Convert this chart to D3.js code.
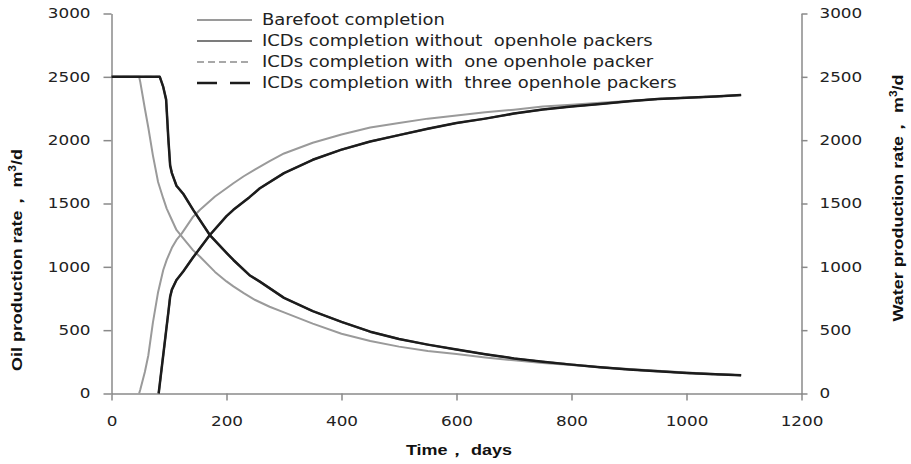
<!DOCTYPE html>
<html>
<head>
<meta charset="utf-8">
<script src="https://cdnjs.cloudflare.com/ajax/libs/d3/7.8.5/d3.min.js"></script>
<style>
body { margin: 0; background: #fff; }
svg { display: block; font-family: 'DejaVu Sans', Verdana, sans-serif; }
.axis path, .axis line { stroke: #8a8a8a; stroke-width: 1.5; }
.axis text { fill: #222; font-size: 14px; font-family: 'DejaVu Sans', Verdana, sans-serif; }
.title { font-family: 'Liberation Sans', Arial, sans-serif; font-weight: bold; font-size: 15px; fill: #111; }
.legend text { font-size: 15px; fill: #222; white-space: pre; }
path.series { fill: none; stroke-linejoin: round; }
</style>
</head>
<body>
<div id="chart"></div>
<script>

// values
var barefootDays = [0, 48, 50, 58, 64, 72, 81, 90, 96, 105, 113, 122, 142, 154, 180, 200, 212, 230, 250, 275, 300, 350,
  400, 450, 500, 550, 600, 650, 700, 750, 800, 850, 900, 950, 1000, 1050, 1095];
var barefootOil = [2500, 2500, 2460, 2250, 2100, 1880, 1670, 1540, 1460, 1370, 1291, 1240, 1130, 1080, 960, 885, 846, 792, 738, 685, 640, 552,
  472, 415, 370, 335, 311, 285, 262, 240, 224, 208, 194, 180, 166, 154, 145];
var barefootWater = [null, 0, 30, 170, 300, 560, 800, 975, 1055, 1150, 1212, 1262, 1396, 1450, 1555, 1620, 1660, 1715, 1770, 1835, 1895, 1980,
  2045, 2100, 2135, 2170, 2195, 2220, 2240, 2265, 2280, 2295, 2310, 2325, 2335, 2345, 2357];

var icdDays = [0, 82, 84, 90, 95, 99, 102, 105, 113, 125, 142, 171, 200, 212, 240, 258, 300, 350,
  400, 450, 500, 550, 600, 650, 700, 750, 800, 850, 900, 950, 1000, 1050, 1095];
var icdOil = [2500, 2500, 2500, 2420, 2320, 2000, 1800, 1740, 1640, 1575, 1450, 1251, 1110, 1054, 934, 883, 755, 650,
  565, 488, 430, 386, 347, 310, 277, 250, 228, 207, 189, 175, 162, 151, 145];
var icdWater = [null, 0, 76, 304, 494, 646, 764, 820, 896, 965, 1075, 1251, 1400, 1450, 1550, 1620, 1740, 1845,
  1925, 1990, 2040, 2090, 2135, 2170, 2210, 2242, 2265, 2285, 2308, 2325, 2335, 2345, 2357];

var seriesNames = ["Barefoot completion", "ICDs completion without  openhole packers",
  "ICDs completion with  one openhole packer", "ICDs completion with  three openhole packers"];
var xTicks = [0, 200, 400, 600, 800, 1000, 1200];
var yTicks = [0, 500, 1000, 1500, 2000, 2500, 3000];

var series = [
  { name: seriesNames[0], days: barefootDays, oil: barefootOil, water: barefootWater, color: "#9a9a9a", width: 2, dash: null },
  { name: seriesNames[1], days: icdDays, oil: icdOil, water: icdWater, color: "#7c7c7c", width: 2, dash: null },
  { name: seriesNames[2], days: icdDays, oil: icdOil, water: icdWater, color: "#a8a8a8", width: 2, dash: "7,4" },
  { name: seriesNames[3], days: icdDays, oil: icdOil, water: icdWater, color: "#1c1c1c", width: 2.5, dash: "20,13", plotDash: null }
];

var W = 911, H = 464;
var margin = { top: 13.5, right: 109.5, bottom: 70.5, left: 111.5 };
var width = W - margin.left - margin.right;
var height = H - margin.top - margin.bottom;
var sx = 1.2; // the picture is stretched sideways

var svg = d3.select("#chart").append("svg").attr("width", W).attr("height", H);
var g = svg.append("g").attr("transform", "translate(" + margin.left + "," + margin.top + ")");

var x = d3.scaleLinear().domain([0, 1200]).range([0, width]);
var y = d3.scaleLinear().domain([0, 3000]).range([height, 0]);
var fmt = d3.format("d");

function stretchTicks(sel) {
  sel.selectAll(".tick text").each(function () {
    var t = d3.select(this);
    t.attr("x", (+t.attr("x") || 0) / sx).attr("transform", "scale(" + sx + ",1)");
  });
}

g.append("g").attr("class", "axis").attr("transform", "translate(0," + height + ")")
  .call(d3.axisBottom(x).tickValues(xTicks).tickFormat(fmt).tickSize(7).tickPadding(16).tickSizeOuter(0))
  .call(stretchTicks);
g.append("g").attr("class", "axis")
  .call(d3.axisLeft(y).tickValues(yTicks).tickFormat(fmt).tickSize(8).tickPadding(13).tickSizeOuter(0))
  .call(stretchTicks);
g.append("g").attr("class", "axis").attr("transform", "translate(" + width + ",0)")
  .call(d3.axisRight(y).tickValues(yTicks).tickFormat(fmt).tickSize(6).tickPadding(12).tickSizeOuter(0))
  .call(stretchTicks);

// lines
series.forEach(function (s) {
  ["oil", "water"].forEach(function (k) {
    var line = d3.line()
      .defined(function (d, i) { return s[k][i] != null; })
      .x(function (d) { return x(d); })
      .y(function (d, i) { return y(s[k][i]); });
    var dash = s.plotDash !== undefined ? s.plotDash : s.dash;
    g.append("path").attr("class", "series")
      .attr("d", line(s.days))
      .attr("stroke", s.color)
      .attr("stroke-width", s.width)
      .attr("stroke-dasharray", dash);
  });
});

// axis titles
svg.append("text").attr("class", "title")
  .attr("transform", "translate(459,450) scale(" + sx + ",1)")
  .attr("text-anchor", "middle").attr("dy", "0.35em")
  .text("Time\uFF0C days");

function rotTitle(label, cx, cy, len) {
  var t = svg.append("text").attr("class", "title")
    .attr("transform", "translate(" + cx + "," + cy + ") rotate(-90)")
    .attr("text-anchor", "middle").attr("dy", "0.35em")
    .attr("textLength", len).attr("lengthAdjust", "spacingAndGlyphs");
  t.append("tspan").text(label + "\uFF0C m");
  t.append("tspan").attr("dy", -6).style("font-size", "10px").text("3");
  t.append("tspan").attr("dy", 6).text("/d");
}
rotTitle("Oil production rate", 17, 260, 222);
rotTitle("Water production rate", 898, 198, 247);

// legend
var legend = svg.append("g").attr("class", "legend");
var rows = legend.selectAll("g").data(series).enter().append("g")
  .attr("transform", function (d, i) { return "translate(197," + (20 + i * 21) + ")"; });
rows.append("line").attr("x1", 0).attr("x2", 55)
  .attr("stroke", function (d) { return d.color; })
  .attr("stroke-width", function (d) { return d.width; })
  .attr("stroke-dasharray", function (d) { return d.dash; });
rows.append("text").attr("x", 65 / sx).attr("dy", "0.35em")
  .attr("transform", "scale(" + sx + ",1)")
  .text(function (d) { return d.name; });

</script>
</body>
</html>
